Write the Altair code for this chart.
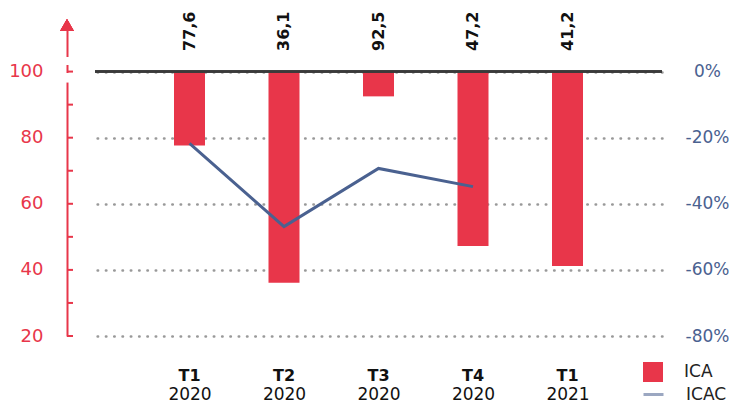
import altair as alt
import pandas as pd

categories = ["T1 2020", "T2 2020", "T3 2020", "T4 2020", "T1 2021"]
quarters = ["T1", "T2", "T3", "T4", "T1"]
years = ["2020", "2020", "2020", "2020", "2021"]
ica = [77.6, 36.1, 92.5, 47.2, 41.2]
icac_cats = ["T1 2020", "T2 2020", "T3 2020", "T4 2020"]
icac = [-21.7, -46.9, -29.3, -34.8]
left_ticks = [20, 30, 40, 50, 60, 70, 80, 90, 100]
right_ticks = [0, -20, -40, -60, -80]

RED = "#e8364a"
BLUE = "#4a6190"
FONT = "DejaVu Sans"

bars_df = pd.DataFrame({
    "cat": categories,
    "quarter": quarters,
    "year": years,
    "ica": ica,
    "base": [100] * len(ica),
    "label": [f"{v:.1f}".replace(".", ",") for v in ica],
    "serie": ["ICA"] * len(ica),
})
line_df = pd.DataFrame({"cat": icac_cats, "icac": icac, "serie": ["ICAC"] * len(icac)})
ticks_df = pd.DataFrame({"t": left_ticks})

xscale = alt.Scale(type="point", domain=categories, padding=1)
yleft = alt.Scale(domain=[20, 115], nice=False, zero=False)
yright = alt.Scale(domain=[-80, 15], nice=False, zero=False)

x_enc = alt.X("cat:N", scale=xscale, sort=categories, title=None,
              axis=alt.Axis(domain=False, ticks=False, labelAngle=0,
                            labelExpr="split(datum.label, ' ')[1]",
                            labelFont=FONT, labelFontSize=17, labelColor="#111",
                            labelPadding=63, labelBaseline="alphabetic"))

bars = alt.Chart(bars_df).mark_bar(size=31).encode(
    x=x_enc,
    y=alt.Y("base:Q", scale=yleft, title=None,
            axis=alt.Axis(orient="left", offset=28, values=left_ticks,
                          labelExpr="datum.value % 20 == 0 ? datum.label : ''",
                          domainColor=RED, domainWidth=2, tickSize=0,
                          labelColor=RED, labelFont=FONT, labelFontSize=18,
                          labelPadding=24, grid=False)),
    y2="ica:Q",
    fill=alt.Fill("serie:N", scale=alt.Scale(domain=["ICA"], range=[RED]),
                  legend=alt.Legend(orient="none", legendX=548, legendY=340, title=None,
                                    symbolType="square", symbolSize=400,
                                    symbolStrokeWidth=0, labelFont=FONT,
                                    labelFontSize=17, labelColor="#222",
                                    labelOffset=21, padding=0)),
)

tick_rules = alt.Chart(ticks_df).mark_rule(color=RED, strokeWidth=2).encode(
    y=alt.Y("t:Q", scale=yleft),
    x=alt.value(-28),
    x2=alt.value(-22),
)

gap1 = alt.Chart(bars_df).mark_rule(color="white", strokeWidth=6).encode(
    y=alt.datum(96.8), y2=alt.datum(99.5), x=alt.value(-28))
gap2 = alt.Chart(bars_df).mark_rule(color="white", strokeWidth=6).encode(
    y=alt.datum(102.0), y2=alt.datum(104.4), x=alt.value(-28))

arrow = alt.Chart(bars_df).mark_point(shape="triangle-up", size=190, filled=True,
                                      color=RED, opacity=1).encode(
    x=alt.value(-28), y=alt.value(3))

rule100 = alt.Chart(bars_df).mark_rule(color="#3a3a3a", strokeWidth=2).encode(
    y=alt.datum(100))

labels = alt.Chart(bars_df).mark_text(angle=270, align="left", baseline="middle",
                                      font=FONT, fontSize=16, fontWeight="bold",
                                      color="#111").encode(
    x=alt.X("cat:N", scale=xscale, sort=categories),
    y=alt.value(29),
    text="label:N",
)

qlabels = alt.Chart(bars_df).mark_text(baseline="middle", font=FONT, fontSize=16,
                                       fontWeight="bold", color="#111").encode(
    x=alt.X("cat:N", scale=xscale, sort=categories),
    y=alt.value(354),
    text="quarter:N",
)

left = alt.layer(bars, rule100, tick_rules, gap1, gap2, arrow, labels, qlabels)

line = alt.Chart(line_df).mark_line(strokeWidth=3).encode(
    x=alt.X("cat:N", scale=xscale, sort=categories),
    y=alt.Y("icac:Q", scale=yright, title=None,
            axis=alt.Axis(orient="right", values=right_ticks,
                          labelExpr="datum.value + '%'",
                          domain=False, ticks=False, labelAlign="center",
                          labelPadding=45, labelColor=BLUE, labelFont=FONT,
                          labelFontSize=17, grid=True, gridColor="#999",
                          gridDash=[0.5, 7.8], gridCap="round", gridWidth=2.5)),
    stroke=alt.Stroke("serie:N", scale=alt.Scale(domain=["ICAC"], range=[BLUE]),
                      legend=alt.Legend(orient="none", legendX=547, legendY=361, title=None,
                                        symbolType="stroke", symbolSize=400,
                                        symbolStrokeWidth=3, symbolOpacity=0.55,
                                        labelFont=FONT, labelFontSize=17,
                                        labelColor="#222", labelOffset=21, padding=0)),
)

chart = alt.layer(left, line).resolve_scale(y="independent", fill="independent",
                                            stroke="independent").properties(
    width=567, height=314,
    autosize=alt.AutoSizeParams(type="none"),
    padding={"left": 87, "top": 14, "right": 67, "bottom": 66},
).configure_view(stroke=None)

chart.save("out.html", embed_options={"renderer": "svg", "actions": False})
